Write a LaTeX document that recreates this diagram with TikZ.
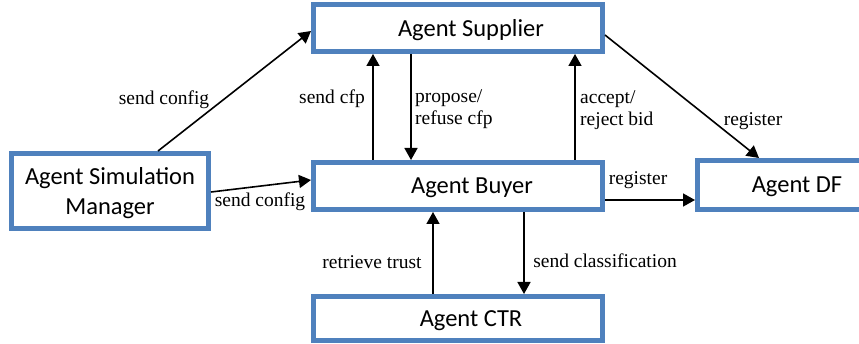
\documentclass[tikz,border=0pt]{standalone}
\usepackage{fontspec}
\setmainfont{Liberation Serif}
\newfontfamily\boxfont{Carlito}
\usetikzlibrary{arrows.meta}
\definecolor{boxblue}{RGB}{79,129,189}
\begin{document}
\begin{tikzpicture}[x=1pt,y=-1pt,
  box/.style={draw=boxblue, line width=5pt, fill=white, align=center,
    font=\boxfont\fontsize{24.5}{30}\selectfont, inner sep=0pt, text depth=0pt},
  conn/.style={line width=1.6pt, -{Triangle[length=12pt,width=13pt]}},
  lbl/.style={font=\fontsize{19.5}{22.5}\selectfont, inner sep=0pt}]
\fill[white] (0,0) rectangle (859,344);
\clip (0,0) rectangle (859,344);
\node[box, minimum width=289pt, minimum height=47pt] (sup) at (458,28) {\hspace*{26pt}Agent Supplier};
\node[box, minimum width=289pt, minimum height=47pt] (buy) at (458,186) {\hspace*{28pt}Agent Buyer};
\node[box, minimum width=197pt, minimum height=75pt] (sim) at (110,191) {Agent Simulation\\Manager};
\node[box, minimum width=199pt, minimum height=49pt] (df) at (797,185) {Agent DF};
\node[box, minimum width=289pt, minimum height=44pt] (ctr) at (458,318.5) {\hspace*{26pt}Agent CTR};

\draw[conn] ([xshift=48pt]sim.north) -- ([yshift=-3pt]sup.west);
\draw[conn] ([yshift=-1pt]sim.east) -- ([yshift=6pt]buy.west);
\draw[conn] ([xshift=-85pt]buy.north) -- ([xshift=-85pt]sup.south);
\draw[conn] ([xshift=-47pt]sup.south) -- ([xshift=-47pt]buy.north);
\draw[conn] ([xshift=117pt]buy.north) -- ([xshift=117pt]sup.south);
\draw[conn] ([yshift=-7pt]sup.east) -- ([xshift=-38pt]df.north);
\draw[conn] ([yshift=-14pt]buy.east) -- ([yshift=-15pt]df.west);
\draw[conn] ([xshift=-25pt]ctr.north) -- ([xshift=-25pt]buy.south);
\draw[conn] ([xshift=66pt]buy.south) -- ([xshift=66pt]ctr.north);

\node[lbl] (l1) at (164,100) {send config};
\node[lbl] (l2) at (260,202) {send config};
\node[lbl] (l3) at (332,99) {send cfp};
\node[lbl, anchor=west, align=left] (l4) at (415,109) {propose/\\refuse cfp};
\node[lbl, anchor=west, align=left] (l5) at (580,110) {accept/\\reject bid};
\node[lbl] (l6) at (753,121) {register};
\node[lbl] (l7) at (638,180) {register};
\node[lbl] (l8) at (372,262) {retrieve trust};
\node[lbl] (l9) at (605,261) {send classification};
\end{tikzpicture}
\end{document}
